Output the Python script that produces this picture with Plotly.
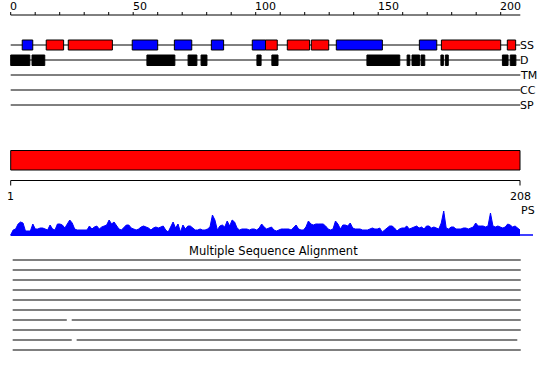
import plotly.graph_objects as go

# ---------------- data ----------------
seq_len = 208
top_tick_labels = [0, 50, 100, 150, 200]
top_minor_ticks = list(range(0, 201, 10))

track_names = ["SS", "D", "TM", "CC", "SP"]

# secondary structure: H = helix (red), E = strand (blue)
ss_start = [4.7, 14.5, 23.5, 49.6, 66.8, 81.9, 98.6, 104.0, 112.9, 122.7, 132.9, 166.8, 175.8, 202.7]
ss_end   = [9.0, 21.6, 41.5, 60.0, 73.9, 86.9, 104.0, 108.8, 122.0, 129.8, 151.7, 173.9, 200.0, 206.1]
ss_type  = ["E", "H", "H", "E", "E", "E", "E", "H", "H", "H", "E", "E", "H", "H"]

# disorder regions
dis_start = [0.0, 8.7, 55.6, 72.4, 77.7, 100.5, 106.6, 145.4, 161.8, 163.8, 167.5, 175.6, 177.4, 200.7, 203.9]
dis_end   = [7.8, 13.9, 67.0, 76.0, 80.1, 102.2, 109.1, 158.8, 162.9, 166.9, 169.0, 176.6, 178.6, 203.0, 206.2]

# domain bar (1-based residues)
domain_start = [1]
domain_end = [208]
bottom_labels = ["1", "208"]

# profile score per residue
ps_values = [
    1, 6, 7, 12, 14, 13, 5, 5, 5, 12, 7, 7, 8, 8, 7, 6, 11, 7, 6, 12,
    12, 11, 8, 12, 16, 13, 7, 6, 6, 6, 6, 6, 10, 7, 9, 10, 7, 9, 10, 11,
    16, 12, 14, 10, 7, 6, 9, 11, 11, 8, 7, 6, 7, 9, 10, 9, 8, 6, 8, 9,
    8, 9, 10, 6, 4, 9, 14, 8, 12, 4, 11, 7, 10, 10, 8, 6, 6, 7, 6, 6,
    7, 9, 21, 16, 6, 10, 11, 9, 15, 10, 16, 14, 8, 6, 7, 7, 7, 6, 7, 7,
    6, 8, 12, 9, 7, 8, 9, 6, 5, 6, 7, 7, 7, 7, 6, 9, 11, 7, 6, 6,
    9, 15, 12, 11, 12, 12, 12, 12, 10, 7, 6, 7, 15, 12, 7, 11, 11, 10, 13, 8,
    7, 7, 7, 6, 6, 6, 7, 8, 7, 7, 8, 4, 6, 8, 10, 10, 8, 5, 7, 8,
    8, 10, 7, 8, 9, 10, 8, 9, 7, 10, 10, 8, 9, 8, 7, 13, 25, 8, 7, 9,
    9, 7, 7, 7, 8, 8, 7, 8, 9, 13, 10, 10, 10, 9, 10, 23, 10, 9, 10, 9,
    8, 9, 12, 11, 9, 10, 8, 6,
]
ps_residues = list(range(1, seq_len + 1))
ps_baseline_end = 213.3

msa_title = "Multiple Sequence Alignment"
# each alignment row: list of covered [start, end] segments (1-based)
msa_rows = [
    [[1.8, 208.3]],
    [[1.8, 208.3]],
    [[1.8, 208.3]],
    [[1.8, 208.3]],
    [[1.8, 208.3]],
    [[1.8, 208.3]],
    [[1.8, 23.8], [25.8, 208.3]],
    [[1.8, 208.3]],
    [[1.8, 25.8], [27.8, 206.9]],
    [[1.8, 208.3]],
]

# ---------------- layout helpers (pixel rows) ----------------
W, H = 550, 380
FONT = "DejaVu Sans"
RED = "#ff0000"
BLUE = "#0000ff"

axis_y = 15
track_y = [45, 60, 75, 90, 105]
box_half = 5
domain_y0, domain_y1 = 150.5, 170
ruler_y = 180.5
msa_y0, msa_step = 260, 10

shapes = []
annotations = []

def line(x0, x1, y0, y1, xref="x", color="black", width=1):
    shapes.append(dict(type="line", xref=xref, yref="y", x0=x0, x1=x1, y0=y0, y1=y1,
                       line=dict(color=color, width=width), layer="above"))

def rect(x0, x1, y0, y1, fill, xref="x"):
    shapes.append(dict(type="rect", xref=xref, yref="y", x0=x0, x1=x1, y0=y0, y1=y1,
                       fillcolor=fill, line=dict(color="black", width=1), layer="above"))

def text(x, y, s, xref="x", xanchor="left", size=11):
    annotations.append(dict(x=x, y=y, xref=xref, yref="y", text=s, showarrow=False,
                            xanchor=xanchor, yanchor="middle",
                            font=dict(family=FONT, size=size, color="black")))

# top ruler
line(0, seq_len, axis_y, axis_y)
for t in top_minor_ticks:
    line(t, t, axis_y - 3, axis_y)
for t in top_tick_labels:
    text(t - 1, 6, str(t))

# track base lines and labels
for name, y in zip(track_names, track_y):
    line(0, seq_len, y, y)
    text(seq_len - 1, y + 0.5, name)

for s, e, t in zip(ss_start, ss_end, ss_type):
    rect(s, e, track_y[0] - box_half, track_y[0] + box_half, RED if t == "H" else BLUE)
for s, e in zip(dis_start, dis_end):
    rect(s, e, track_y[1] - box_half, track_y[1] + box_half + 0.5, "black")

# domain bar
for s, e in zip(domain_start, domain_end):
    rect(s, e, domain_y0, domain_y1, RED, xref="x2")

# bottom ruler
line(1, seq_len, ruler_y, ruler_y, xref="x2")
line(1, 1, ruler_y, ruler_y + 5, xref="x2")
line(seq_len, seq_len, ruler_y, ruler_y + 5, xref="x2")
text(1, 196, bottom_labels[0], xref="x2", xanchor="center")
text(seq_len, 196, bottom_labels[1], xref="x2", xanchor="center")
text(seq_len - 0.5, 210.5, "PS", xref="x2")

# PS baseline
line(1, ps_baseline_end, 235, 235, xref="x2", color=BLUE, width=1.5)

# MSA
text(108, 251, msa_title, xref="x2", xanchor="center", size=11.5)
for i, row in enumerate(msa_rows):
    y = msa_y0 + i * msa_step
    for s, e in row:
        line(s, e, y, y, xref="x2", width=1.2)

# ---------------- figure ----------------
fig = go.Figure()
fig.add_trace(go.Scatter(x=ps_residues, y=ps_values, xaxis="x3", yaxis="y2",
                         mode="lines", line=dict(color=BLUE, width=1, shape="linear"),
                         fill="tozeroy", fillcolor=BLUE, hoverinfo="skip", showlegend=False))
fig.add_trace(go.Scatter(x=[1], y=[0], xaxis="x2", yaxis="y", mode="markers",
                         marker=dict(opacity=0), hoverinfo="skip", showlegend=False))

s_top = 2.45
x0_px = 10.7
s_bot = (520.0 - 10.7) / 207.0
top_range = [-x0_px / s_top, (W - x0_px) / s_top]
bot_range = [1 - x0_px / s_bot, 1 + (W - x0_px) / s_bot]
prof_base_px, prof_top_px = 236, 206

fig.update_layout(
    width=W, height=H, margin=dict(l=0, r=0, t=0, b=0),
    paper_bgcolor="white", plot_bgcolor="white",
    showlegend=False,
    xaxis=dict(range=top_range, visible=False, domain=[0, 1], anchor="y", fixedrange=True),
    xaxis2=dict(range=bot_range, visible=False, overlaying="x", anchor="y", fixedrange=True),
    xaxis3=dict(range=bot_range, visible=False, domain=[0, 1], anchor="y2", fixedrange=True),
    yaxis=dict(range=[H, 0], visible=False, domain=[0, 1], anchor="x", fixedrange=True),
    yaxis2=dict(range=[0, prof_base_px - prof_top_px], visible=False, anchor="x3",
                domain=[(H - prof_base_px) / H, (H - prof_top_px) / H], fixedrange=True),
    shapes=shapes,
    annotations=annotations,
)

fig.write_html("out.html", config={"displayModeBar": False})
